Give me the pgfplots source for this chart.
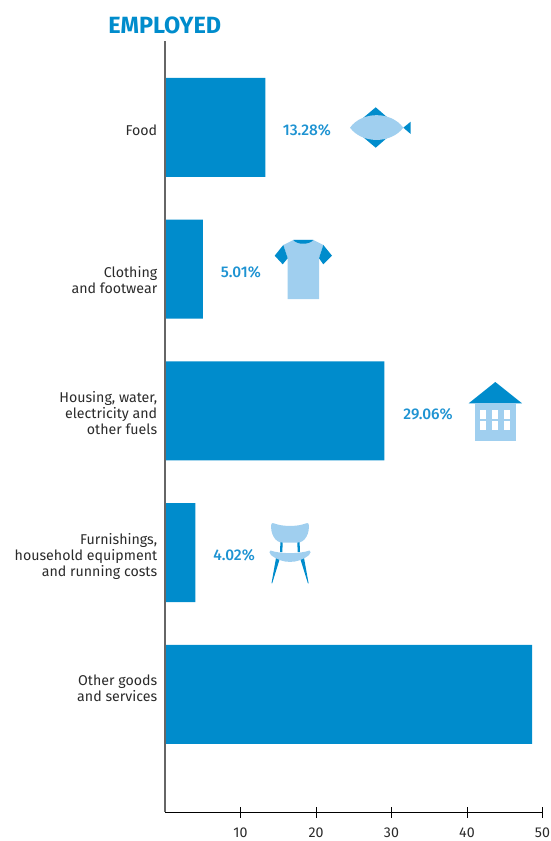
\documentclass[border=0pt]{standalone}
\usepackage{pgfplots}
\pgfplotsset{compat=1.18}
\usepackage{fontspec}
\setmainfont{Fira Sans}
\definecolor{barblue}{HTML}{008CCC}
\definecolor{lightblue}{HTML}{A0CFEF}
\definecolor{txtblue}{HTML}{1E93D2}
\definecolor{lbl}{HTML}{2A2A2A}
\newfontfamily\medfont{Fira Sans Medium}
\begin{document}
\begin{tikzpicture}
\path[use as bounding box] (0pt,0pt) rectangle (412.5pt,-630.75pt);
\begin{axis}[
  at={(123.75pt,-609pt)}, anchor=south west,
  scale only axis,
  width=283.1pt, height=578.25pt,
  xmin=0, xmax=50,
  ymin=-0.829, ymax=4.610,
  axis x line=bottom, axis y line=left,
  axis line style={-},
  x axis line style={draw=black,line width=0.75pt},
  y axis line style={draw=black!60,line width=0.9pt},
  axis on top,
  xtick={10,20,30,40,50},
  ytick={0.0705,1,2.007,2.951,4.007},
  yticklabels={{Other goods\\and services},{Furnishings,\\household equipment\\and running costs},{Housing, water,\\electricity and\\other fuels},{Clothing\\and footwear},{Food}},
  tick align=center,
  major tick length=8.25pt,
  xtick style={draw=black,line width=0.6pt},
  ytick style={draw=none},
  /pgf/number format/assume math mode=true,
  tick label style={font=\fontsize{10.65pt}{12pt}\selectfont, text=lbl},
  yticklabel style={align=right, anchor=east, inner sep=0pt, xshift=-1.5pt, yshift=-2.6pt},
  xticklabel style={yshift=-4pt},
  clip=false,
]
\addplot[xbar, bar width=74.25pt, bar shift=0pt, fill=barblue, draw=none]
  coordinates {(13.28,4) (5.01,3) (29.06,2) (4.02,1) (48.63,0)};
\node[text=txtblue,font=\fontsize{11.6pt}{12pt}\medfont] at (axis cs:18.8,4) [yshift=-2.2pt] {13.28\%};
\node[text=txtblue,font=\fontsize{11.6pt}{12pt}\medfont] at (axis cs:10.05,3) [yshift=-2.2pt] {5.01\%};
\node[text=txtblue,font=\fontsize{11.6pt}{12pt}\medfont] at (axis cs:34.85,2) [yshift=-2.2pt] {29.06\%};
\node[text=txtblue,font=\fontsize{11.6pt}{12pt}\medfont] at (axis cs:9.15,1) [yshift=-2.2pt] {4.02\%};
\end{axis}
\begin{scope}[x=0.75pt,y=-0.75pt]
% title
\node[text=barblue,anchor=west,inner sep=0pt,font=\fontsize{17.6pt}{18pt}\selectfont\bfseries] at (108,25) {EMPLOYED};
% fish
\fill[barblue] (375.7,107.3) -- (388,118) -- (363,118) -- cycle;
\fill[barblue] (375.7,147.7) -- (388,137) -- (363,137) -- cycle;
\fill[barblue] (403.3,127.7) -- (410.7,121.7) -- (410.7,134) -- cycle;
\fill[lightblue] (350,127.7) .. controls (362,111) and (391,111) .. (403.3,127.7) .. controls (391,144) and (362,144) .. (350,127.7) -- cycle;
% shirt
\fill[lightblue] (287.7,299) -- (287.7,258.3) -- (283.3,245) -- (293.3,240) -- (313.3,240) -- (323.3,245) -- (319,258.3) -- (319,299) -- cycle;
\fill[barblue] (283.3,245) -- (274.7,255.7) -- (282.7,264.3) -- (287.7,258.3) -- cycle;
\fill[barblue] (323.3,245) -- (332,255.7) -- (323.3,264.3) -- (319,258.3) -- cycle;
\fill[barblue] (293.3,240) .. controls (297,245) and (309,245) .. (313.3,240) -- cycle;
% house
\fill[barblue] (495.3,382) -- (522,403.3) -- (468.7,403.3) -- cycle;
\fill[lightblue] (475,403.3) rectangle (516,441);
\foreach \cx in {480,492,504} \foreach \cy/\cz in {410/419.3,421/430} {\fill[white] (\cx,\cy) rectangle (\cx+6,\cz);}
% chair
\fill[barblue] (280.5,540) -- (282.8,540) -- (282.3,552) -- (280,552) -- cycle;
\fill[barblue] (297.2,540) -- (299.5,540) -- (300,552) -- (297.7,552) -- cycle;
\fill[barblue] (276,558) -- (280,558) -- (272.2,583.3) -- (271.5,583.3) -- cycle;
\fill[barblue] (300,558) -- (304,558) -- (308.6,583.3) -- (307.9,583.3) -- cycle;
\fill[lightblue] (271.3,524) .. controls (272,522.5) and (273,523) .. (275,523.7) .. controls (283,526.7) and (297,526.7) .. (305,523.7) .. controls (307,523) and (308,522.5) .. (308.7,524) .. controls (310,533) and (305,542.5) .. (298,542.5) -- (282,542.5) .. controls (275,542.5) and (270,533) .. (271.3,524) -- cycle;
\fill[lightblue] (270.5,550.5) .. controls (280,554) and (300,554) .. (309.5,550.5) .. controls (311,551) and (311,553) .. (309,555) .. controls (303,560) and (296,561.9) .. (290,561.9) .. controls (284,561.9) and (277,560) .. (271,555) .. controls (269,553) and (269,551) .. (270.5,550.5) -- cycle;
\end{scope}
\end{tikzpicture}
\end{document}
